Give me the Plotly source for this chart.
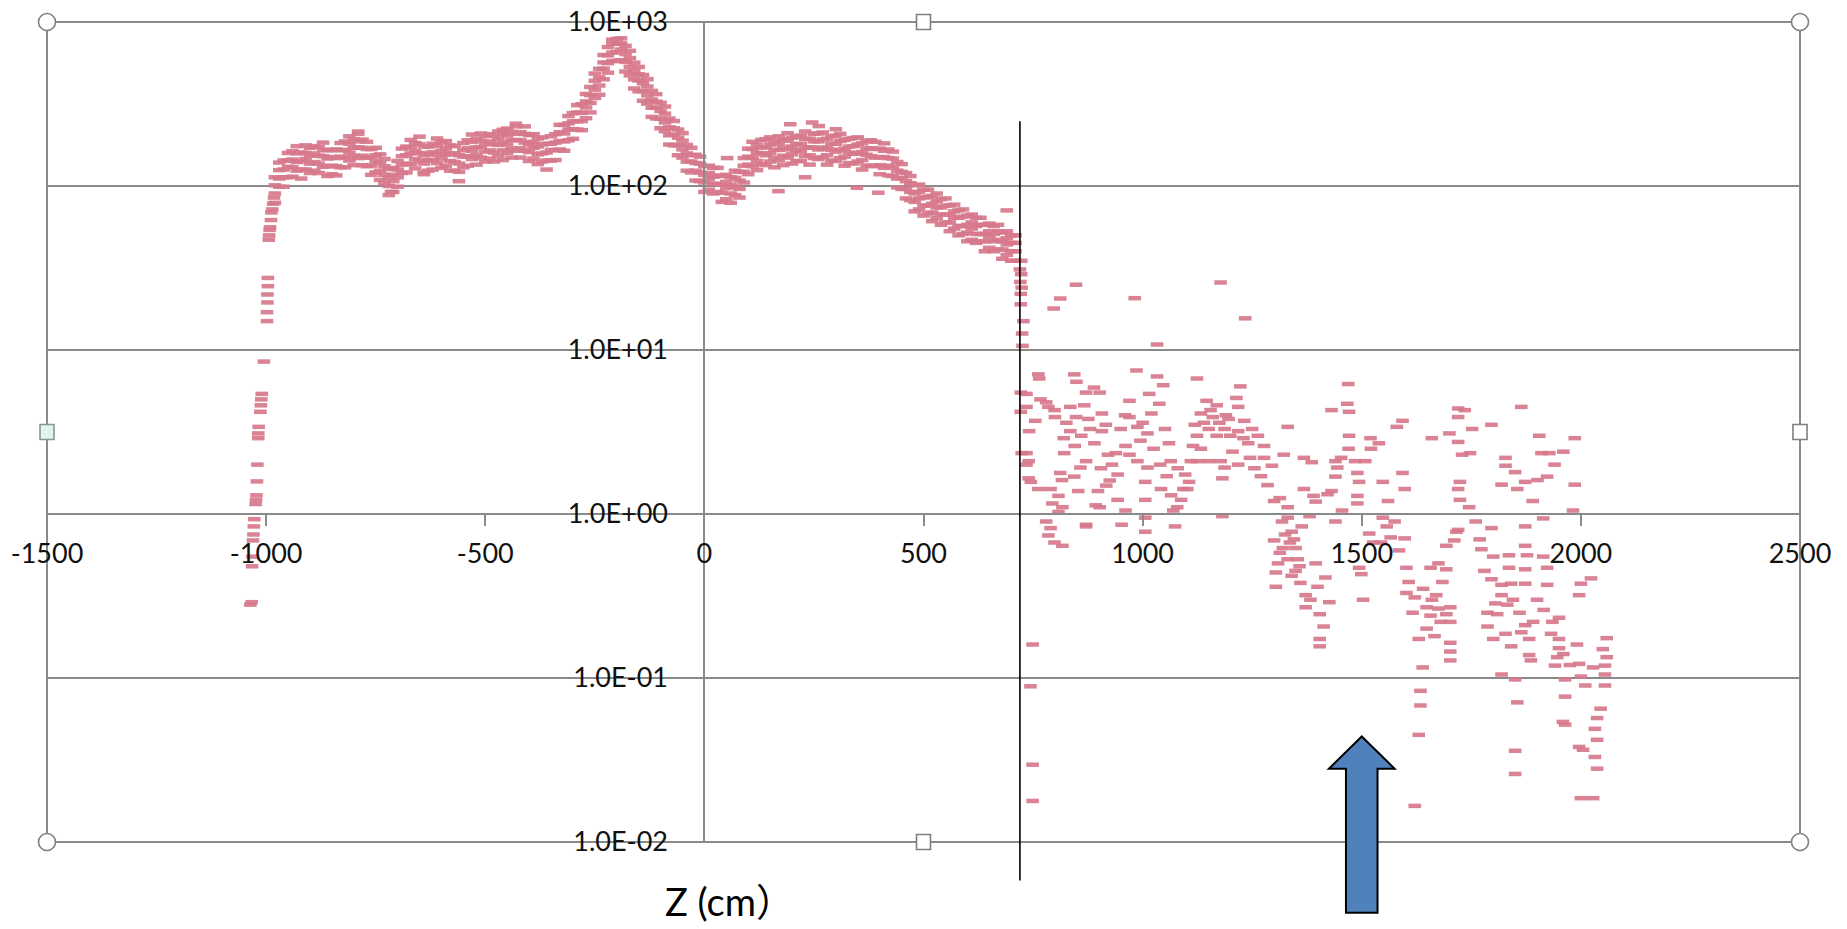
import plotly.graph_objects as go

# ---------------- axis definitions ----------------
X_RANGE = [-1500, 2500]
Y_LOG_RANGE = [-2, 3]
x_tickvals = [-1500, -1000, -500, 0, 500, 1000, 1500, 2000, 2500]
y_tickvals = [0.01, 0.1, 1, 10, 100, 1000]
y_ticktext = ["1.0E-02", "1.0E-01", "1.0E+00", "1.0E+01", "1.0E+02", "1.0E+03"]

X_LABEL = "Z (cm）"
CUT_Z = 720          # vertical marker line
ARROW_Z = 1500       # blue arrow position

# ---------------- data ----------------
# steep rise near z = -1000
rise_z = [-1036, -1033, -1032, -1031, -1030, -1029, -1028, -1027, -1024, -1023, -1022, -1021,
          -1020, -1018, -1018, -1017, -1013, -1012, -1011, -1010, -1005, -998, -998, -997,
          -997, -996, -996, -994, -993, -992, -991, -989, -988, -986, -984, -982]
rise_flux = [0.28, 0.29, 0.48, 0.55, 0.69, 0.75, 0.84, 0.93, 1.15, 1.22, 1.3, 1.58,
             2.0, 2.9, 3.1, 3.4, 4.2, 4.6, 5.0, 5.4, 8.5, 15, 17, 19.5,
             21.8, 24.5, 27.5, 47, 50, 54, 56, 62, 69, 72, 78, 85]

# dense band: (z, four flux readings spread across the band thickness)
band_rows = [
    (-980, 79, 90, 101, 113), (-970, 99, 111, 125, 139), (-960, 99, 113, 126, 143),
    (-950, 113, 131, 143, 159), (-940, 114, 130, 145, 163), (-930, 124, 140, 158, 175),
    (-920, 111, 126, 142, 160), (-910, 126, 146, 159, 177), (-900, 120, 137, 153, 171),
    (-890, 124, 140, 158, 175), (-880, 120, 137, 153, 173), (-870, 131, 152, 166, 184),
    (-860, 115, 132, 147, 165), (-850, 118, 133, 150, 166), (-840, 116, 132, 148, 167),
    (-830, 130, 151, 165, 183), (-820, 130, 149, 166, 187), (-810, 143, 160, 181, 201),
    (-800, 134, 153, 171, 193), (-790, 148, 172, 187, 208), (-780, 134, 153, 171, 192),
    (-770, 132, 149, 168, 186), (-760, 117, 133, 149, 168), (-750, 121, 141, 154, 171),
    (-740, 109, 124, 139, 156), (-730, 104, 117, 132, 146), (-720, 88, 100, 112, 127),
    (-710, 92, 107, 117, 129), (-700, 99, 113, 126, 142), (-690, 120, 135, 152, 169),
    (-680, 121, 137, 154, 174), (-670, 136, 158, 172, 191), (-660, 128, 146, 163, 183),
    (-650, 142, 159, 180, 200), (-640, 121, 137, 154, 174), (-630, 124, 144, 157, 174),
    (-620, 126, 144, 161, 181), (-610, 138, 155, 176, 195), (-600, 129, 147, 164, 185),
    (-590, 133, 155, 169, 188), (-580, 124, 142, 158, 177), (-570, 124, 140, 158, 175),
    (-560, 107, 122, 137, 154), (-550, 130, 151, 165, 183), (-540, 133, 152, 170, 190),
    (-530, 146, 164, 186, 206), (-520, 135, 154, 172, 194), (-510, 149, 173, 189, 209),
    (-500, 141, 162, 180, 202), (-490, 147, 165, 187, 207), (-480, 141, 160, 180, 202),
    (-470, 153, 178, 194, 215), (-460, 144, 165, 184, 207), (-450, 159, 179, 203, 224),
    (-440, 149, 169, 190, 214), (-430, 164, 191, 208, 231), (-420, 149, 170, 190, 213),
    (-410, 164, 184, 208, 231), (-400, 142, 161, 181, 204), (-390, 147, 171, 186, 207),
    (-380, 136, 156, 174, 195), (-370, 141, 158, 179, 198), (-360, 126, 143, 160, 181),
    (-350, 143, 166, 181, 201), (-340, 144, 165, 184, 207), (-330, 167, 188, 213, 236),
    (-320, 164, 187, 209, 236), (-310, 190, 221, 241, 267), (-300, 194, 222, 248, 278),
    (-290, 221, 248, 281, 311), (-280, 219, 249, 279, 315), (-270, 259, 301, 328, 364),
    (-260, 281, 321, 358, 402), (-250, 344, 387, 438, 485), (-240, 360, 410, 459, 518),
    (-230, 447, 520, 567, 629), (-220, 491, 561, 626, 703), (-210, 579, 651, 737, 780),
    (-200, 578, 657, 736, 790), (-190, 585, 680, 741, 795), (-180, 499, 571, 637, 715),
    (-170, 473, 533, 603, 667), (-160, 393, 447, 501, 565), (-150, 378, 440, 480, 532),
    (-140, 331, 379, 423, 475), (-130, 318, 357, 404, 448), (-120, 264, 300, 337, 380),
    (-110, 258, 300, 327, 363), (-100, 225, 257, 287, 322), (-90, 216, 244, 276, 305),
    (-80, 179, 204, 228, 258), (-70, 177, 206, 225, 249), (-60, 154, 177, 197, 221),
    (-50, 149, 167, 189, 210), (-40, 124, 141, 158, 178), (-30, 121, 141, 154, 171),
    (-20, 108, 124, 138, 155), (-10, 107, 121, 137, 151), (0, 92, 105, 117, 132),
    (10, 95, 110, 120, 133), (20, 90, 103, 114, 129), (30, 92, 103, 116, 129),
    (40, 80, 91, 102, 115), (50, 83, 97, 106, 117), (60, 79, 90, 101, 113),
    (70, 88, 99, 112, 124), (80, 85, 96, 108, 122), (90, 105, 122, 133, 148),
    (100, 118, 135, 151, 169), (110, 132, 149, 168, 186), (120, 125, 142, 159, 179),
    (130, 136, 158, 172, 191), (140, 134, 154, 172, 193), (150, 141, 158, 179, 198),
    (160, 130, 148, 166, 187), (170, 143, 166, 181, 201), (180, 134, 153, 171, 192),
    (190, 149, 167, 189, 210), (200, 137, 156, 174, 197), (210, 142, 165, 180, 200),
    (220, 142, 162, 181, 203), (230, 152, 171, 194, 215), (240, 135, 154, 172, 194),
    (250, 148, 172, 187, 208), (260, 146, 167, 187, 209), (270, 150, 169, 192, 212),
    (280, 135, 154, 172, 194), (290, 143, 166, 181, 201), (300, 142, 162, 181, 203),
    (310, 148, 166, 188, 208), (320, 133, 151, 169, 191), (330, 138, 160, 174, 194),
    (340, 137, 157, 175, 196), (350, 141, 158, 179, 198), (360, 126, 144, 161, 182),
    (370, 133, 155, 169, 188), (380, 133, 152, 170, 190), (390, 132, 149, 168, 186),
    (400, 118, 134, 150, 169), (410, 129, 150, 164, 182), (420, 116, 133, 148, 167),
    (430, 115, 130, 147, 162), (440, 98, 111, 124, 140), (450, 96, 112, 122, 136),
    (460, 84, 96, 107, 120), (470, 82, 92, 104, 115), (480, 70, 80, 90, 101),
    (490, 72, 84, 92, 102), (500, 66, 76, 85, 95), (510, 68, 76, 86, 95),
    (520, 61, 69, 78, 87), (530, 64, 74, 81, 90), (540, 58, 67, 74, 83),
    (550, 60, 67, 76, 84), (560, 53, 60, 67, 76), (570, 55, 64, 70, 77),
    (580, 50, 57, 64, 71), (590, 51, 57, 65, 72), (600, 46, 52, 58, 66),
    (610, 47, 55, 60, 67), (620, 45, 51, 57, 64), (630, 46, 51, 58, 64),
    (640, 40, 46, 51, 58), (650, 42, 49, 53, 59), (660, 40, 46, 51, 57),
    (670, 41, 47, 53, 58), (680, 36, 41, 46, 52), (690, 38, 44, 48, 53),
    (700, 35, 40, 45, 50), (710, 35, 40, 45, 50),
]

# isolated points around the band and along the cut line
band_extra_z = [-790, -640, -715, -430, -460, 52, 196, 246, 261, 300, 169, 230, 348, 397, 690,
                720, 721, 722, 722, 723, 724, 725, 726, 728, 723]
band_extra_flux = [215, 118, 92, 240, 220, 148, 238, 244, 232, 222, 93, 113, 97.5, 91, 71,
                   31, 26, 22, 19, 35, 24, 12.6, 10.6, 15, 29]

# scattered tail beyond z = 720: (z, flux)
tail_points = [
    (848, 25), (812, 20.6), (797, 17.9), (982, 20.7), (1178, 25.8), (1234, 15.6), (1033, 10.8),
    (735, 4.5), (740, 2.1), (740, 1.65), (722, 5.5), (724, 2.35), (722, 4.2),
    (762, 7.1), (764, 6.7), (844, 7.1), (849, 6.4), (889, 5.9), (902, 5.5), (871, 5.5),
    (735, 5.4), (767, 5.0), (785, 4.5), (835, 4.5), (867, 4.6), (848, 3.9), (907, 4.1),
    (876, 3.8), (916, 3.5), (755, 3.7), (741, 3.2), (826, 3.6), (799, 4.3), (880, 3.3),
    (835, 3.2), (907, 3.2), (735, 2.35), (735, 2.0), (821, 2.35), (871, 2.1), (858, 1.92),
    (812, 1.78), (844, 1.69), (745, 1.57), (790, 1.42), (762, 1.42), (816, 1.61), (898, 1.38),
    (853, 1.38), (808, 1.29), (794, 1.16), (817, 1.1), (808, 1.03), (893, 1.13), (780, 0.90),
    (790, 0.82), (871, 0.86), (785, 0.74), (799, 0.67), (817, 0.64),
    (986, 7.5), (1033, 6.9), (1047, 6.1), (1015, 5.4), (1038, 4.7), (970, 4.9), (1020, 4.1),
    (970, 3.9), (988, 3.4), (1051, 3.3), (1011, 3.1), (961, 2.6), (939, 2.35), (921, 2.3),
    (970, 2.3), (930, 2.0), (988, 2.1), (1060, 2.7), (1064, 2.1), (943, 1.74), (917, 1.49),
    (1011, 1.92), (1006, 1.57), (943, 1.22), (902, 1.1), (961, 1.05), (1006, 1.22), (1042, 1.42),
    (1070, 1.05), (1006, 0.95), (952, 0.86), (1006, 0.78), (871, 0.84), (1074, 0.84),
    (1097, 1.74), (1093, 1.42), (1088, 1.22), (1110, 2.1), (1106, 1.57), (1079, 1.1),
    (1124, 6.7), (1223, 6.0), (1146, 4.9), (1169, 4.6), (1214, 5.1), (1218, 4.5), (1133, 4.1),
    (1160, 3.9), (1196, 3.8), (1232, 3.7), (1119, 3.5), (1151, 3.3), (1187, 3.3), (1218, 3.2),
    (1250, 3.3), (1263, 3.0), (1124, 3.0), (1169, 3.0), (1241, 2.7), (1277, 2.6), (1133, 2.5),
    (1277, 2.2), (1322, 2.3), (1331, 3.4), (1295, 1.97), (1151, 2.1), (1178, 2.1), (1218, 2.0),
    (1187, 1.92), (1182, 1.65), (1124, 2.1), (1102, 1.42), (1182, 0.97), (1368, 2.2), (1386, 2.07),
    (1313, 1.25), (1331, 1.1), (1331, 0.95), (1363, 0.84), (1340, 0.78), (1300, 0.69),
    (1336, 0.67), (1349, 0.62), (1313, 0.58), (1331, 0.53), (1354, 0.53), (1358, 0.48),
    (1309, 0.50), (1304, 0.44), (1349, 0.45), (1304, 0.36), (1417, 0.41), (1399, 0.36),
    (1372, 0.32), (1426, 0.29), (1372, 0.27), (1404, 0.245), (1413, 0.206), (1404, 0.173),
    (1404, 0.156), (1390, 1.29), (1381, 0.97), (1368, 1.42), (1395, 1.19), (1422, 1.32),
    (1469, 6.2), (1467, 4.7), (1431, 4.3), (1471, 4.2), (1471, 3.0), (1580, 3.4), (1593, 3.7),
    (1539, 2.7), (1521, 2.5), (1453, 2.2), (1440, 2.1), (1485, 2.1), (1508, 2.1), (1444, 1.92),
    (1440, 1.69), (1490, 1.78), (1494, 1.57), (1593, 1.78), (1548, 1.57), (1598, 1.42),
    (1431, 1.38), (1490, 1.29), (1490, 1.16), (1548, 0.95), (1557, 0.84), (1517, 0.76),
    (1566, 0.72), (1598, 0.71), (1526, 0.67), (1544, 0.67), (1494, 0.47), (1499, 0.43),
    (1503, 0.30), (1602, 0.47),
    (1607, 0.385), (1602, 0.33), (1621, 0.31), (1616, 0.25), (1657, 0.47), (1675, 0.50),
    (1693, 0.46), (1684, 0.385), (1670, 0.32), (1648, 0.27), (1675, 0.265), (1702, 0.27),
    (1657, 0.24), (1693, 0.245), (1702, 0.22), (1648, 0.20), (1666, 0.18), (1630, 0.173),
    (1702, 0.164), (1702, 0.145), (1702, 0.128), (1639, 0.116), (1634, 0.0835), (1634, 0.068),
    (1630, 0.045), (1621, 0.0166), (1693, 0.64), (1711, 0.69), (1720, 0.80), (1720, 4.4),
    (1720, 3.9), (1752, 3.3), (1747, 2.35), (1729, 2.3), (1720, 2.75), (1724, 1.57),
    (1720, 1.42), (1724, 1.22), (1796, 3.5), (1716, 0.78),
    (1864, 4.5), (1905, 3.0), (1986, 2.9), (1910, 2.35), (1928, 2.35), (1828, 2.2), (1828, 1.97),
    (1901, 1.61), (1923, 1.69), (1819, 1.51), (1855, 1.42), (1986, 1.51), (1873, 1.57),
    (1982, 1.05), (1914, 0.94), (1873, 0.84), (1796, 0.82), (1769, 0.70), (1773, 0.61),
    (1800, 0.55), (1836, 0.56), (1873, 0.64), (1877, 0.56), (1914, 0.55), (1836, 0.47),
    (1873, 0.46), (1923, 0.47), (1796, 0.40), (1819, 0.37), (1841, 0.376), (1873, 0.376),
    (1923, 0.37), (2000, 0.376), (2023, 0.405), (1996, 0.32), (1819, 0.32), (1805, 0.285),
    (1832, 0.28), (1787, 0.25), (1809, 0.245), (1787, 0.206), (1828, 0.186), (1873, 0.21),
    (1891, 0.22), (1950, 0.233), (1932, 0.186), (1864, 0.19), (1882, 0.173), (1800, 0.173),
    (1841, 0.156), (1950, 0.173), (1950, 0.152), (1882, 0.138), (1886, 0.128), (1991, 0.16),
    (2059, 0.175), (1946, 0.134), (1941, 0.119), (1996, 0.122), (2028, 0.116), (2059, 0.134),
    (2055, 0.119), (1819, 0.105), (1850, 0.098), (1964, 0.098), (2000, 0.102), (2055, 0.105),
    (2055, 0.09), (1855, 0.071), (1964, 0.077), (1959, 0.054), (1964, 0.052), (2037, 0.057),
    (2032, 0.049), (2037, 0.042), (1996, 0.038), (2005, 0.0365), (2032, 0.033), (2037, 0.028),
    (1850, 0.036), (1850, 0.026), (2000, 0.0185), (2028, 0.0185),
    (749, 0.16), (744, 0.089), (749, 0.0296), (749, 0.0178),
    (780, 4.8), (800, 3.9), (820, 2.9), (845, 2.6), (860, 3.0), (890, 2.7), (905, 1.9),
    (925, 1.6), (950, 3.3), (960, 4.0), (995, 2.8), (1000, 3.6), (1025, 2.5), (1040, 2.0),
    (1055, 1.7), (1065, 1.3), (1080, 1.9), (1115, 2.6), (1140, 3.6), (1155, 4.3), (1175, 3.6),
    (1190, 4.0), (1200, 3.0), (1205, 2.4), (1230, 2.9), (1245, 2.2), (1255, 1.9), (1270, 1.7),
    (1285, 1.5), (1300, 1.2), (1318, 0.9), (1325, 0.75), (1345, 0.7), (1320, 0.62),
    (1340, 0.42), (1360, 0.38), (1383, 0.3), (1395, 0.5), (1440, 0.9), (1455, 1.05),
    (1470, 2.5), (1520, 2.9), (1560, 1.2), (1575, 0.9), (1585, 0.6), (1640, 0.35), (1660, 0.3),
    (1680, 0.22), (1745, 1.1), (1760, 0.9), (1780, 0.45), (1845, 0.3), (1860, 0.25),
    (1900, 0.3), (1915, 0.26), (1935, 0.22), (1960, 0.14), (1975, 0.12), (2010, 0.09),
    (2045, 0.065), (2050, 0.15), (1890, 1.2), (1940, 2.0), (1960, 2.4), (1660, 2.9),
    (1700, 3.1), (1735, 4.3), (1850, 1.8),
]

# ---------------- assemble ----------------
zs, fs = [], []
zs += rise_z
fs += rise_flux
for row in band_rows:
    z, vals = row[0], row[1:]
    for v in vals:
        zs.append(z)
        fs.append(v)
zs += band_extra_z
fs += band_extra_flux
for z, f in tail_points:
    zs.append(z)
    fs.append(f)

PINK = "rgba(215,120,139,0.92)"
GRID = "#8a8a8a"
FONT = "Lato, 'Open Sans', sans-serif"

fig = go.Figure()
fig.add_trace(go.Scatter(
    x=zs, y=fs, mode="markers",
    marker=dict(symbol="line-ew", size=9, color=PINK,
                line=dict(color=PINK, width=4.5)),
    showlegend=False, hoverinfo="skip",
))

# plot-area frame
shapes = [dict(type="rect", xref="paper", yref="paper", x0=0, x1=1, y0=0, y1=1,
               line=dict(color=GRID, width=2), layer="below")]

# vertical marker line
shapes.append(dict(type="line", xref="x", yref="paper", x0=CUT_Z, x1=CUT_Z,
                   y0=-0.047, y1=0.879, line=dict(color="black", width=1.6)))

# blue arrow
head_half, shaft_half = 75, 36
y_bot, y_base, y_tip = -0.0862, 0.0894, 0.1287
path = (f"M {ARROW_Z - shaft_half},{y_bot} L {ARROW_Z + shaft_half},{y_bot} "
        f"L {ARROW_Z + shaft_half},{y_base} L {ARROW_Z + head_half},{y_base} "
        f"L {ARROW_Z},{y_tip} L {ARROW_Z - head_half},{y_base} "
        f"L {ARROW_Z - shaft_half},{y_base} Z")
shapes.append(dict(type="path", xref="x", yref="paper", path=path,
                   fillcolor="#4F81BD", line=dict(color="black", width=2)))

# selection handles
def handle(kind, px, py, line_color="#7f7f7f", fill="white"):
    if kind == "circle":
        r = dict(x0=-8.5, x1=8.5, y0=-8.5, y1=8.5)
    else:
        r = dict(x0=-7, x1=7, y0=-7.5, y1=7.5)
    return dict(type=kind, xref="paper", yref="paper", xsizemode="pixel", ysizemode="pixel",
                xanchor=px, yanchor=py, line=dict(color=line_color, width=1.6),
                fillcolor=fill, **r)

for px, py in [(0, 0), (0, 1), (1, 0), (1, 1)]:
    shapes.append(handle("circle", px, py))
shapes.append(handle("rect", 0.5, 1))
shapes.append(handle("rect", 0.5, 0))
shapes.append(handle("rect", 1, 0.5))
shapes.append(handle("rect", 0, 0.5, line_color="#7aa08c", fill="#e6f3ec"))

x_cross = (0 - Y_LOG_RANGE[0]) / (Y_LOG_RANGE[1] - Y_LOG_RANGE[0])   # y = 1 position
y_cross = (0 - X_RANGE[0]) / (X_RANGE[1] - X_RANGE[0])               # z = 0 position

fig.update_layout(
    width=1847, height=929,
    margin=dict(l=47, r=47, t=22, b=87, autoexpand=False),
    paper_bgcolor="white", plot_bgcolor="white",
    font=dict(family=FONT, size=27, color="#111111"),
    shapes=shapes,
    xaxis=dict(range=X_RANGE, anchor="free", position=x_cross, automargin=False,
               tickvals=x_tickvals, ticktext=[str(v) for v in x_tickvals],
               showgrid=False, zeroline=False, showline=True,
               linecolor=GRID, linewidth=2,
               ticks="outside", ticklen=11, tickwidth=1.5, tickcolor=GRID,
               ticklabelstandoff=5,
               tickfont=dict(family=FONT, size=27, color="#111111")),
    yaxis=dict(type="log", range=Y_LOG_RANGE, anchor="free", position=y_cross,
               automargin=False,
               tickvals=y_tickvals, ticktext=y_ticktext,
               showgrid=True, gridcolor=GRID, gridwidth=2,
               zeroline=False, showline=True, linecolor=GRID, linewidth=2,
               ticks="", ticklabelstandoff=30,
               tickfont=dict(family=FONT, size=27, color="#111111")),
    annotations=[dict(text=X_LABEL, xref="paper", yref="paper", x=0.3514, y=-0.1025,
                      showarrow=False, xanchor="left", yanchor="bottom",
                      font=dict(family="Lato, 'Noto Sans CJK JP'", size=38, color="black"))],
)

fig.write_html("out.html", config={"displayModeBar": False})
